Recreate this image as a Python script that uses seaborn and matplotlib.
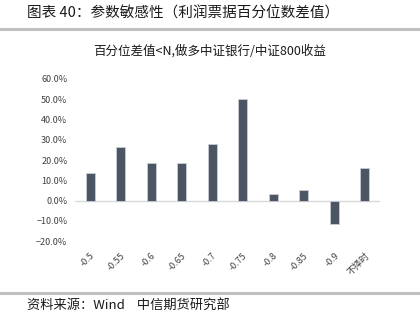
import matplotlib
matplotlib.use("Agg")
import matplotlib.pyplot as plt
import matplotlib.ticker as mticker
from matplotlib.lines import Line2D
import seaborn as sns
import pandas as pd

sns.set_style("white")
plt.rcParams["font.family"] = ["Noto Sans CJK SC", "DejaVu Sans"]

categories = ["-0.5", "-0.55", "-0.6", "-0.65", "-0.7", "-0.75", "-0.8", "-0.85", "-0.9", "不择时"]
returns = [0.137, 0.264, 0.186, 0.186, 0.279, 0.503, 0.033, 0.050, -0.117, 0.161]
y_ticks = [-0.2, -0.1, 0.0, 0.1, 0.2, 0.3, 0.4, 0.5, 0.6]

df = pd.DataFrame({"threshold": categories, "ret": returns})

fig = plt.figure(figsize=(4.2, 3.33), dpi=100)
ax = fig.add_axes([0.1786, 0.276, 0.9048 - 0.1786, 0.763 - 0.276])

sns.barplot(data=df, x="threshold", y="ret", ax=ax, color="#4B5563",
            width=0.31, saturation=1, edgecolor="#c9ced6", linewidth=0.6)

ax.set_ylim(-0.2, 0.6)
ax.set_yticks(y_ticks)
ax.yaxis.set_major_formatter(mticker.PercentFormatter(1.0, decimals=1))
ax.set_xlim(-0.5, len(categories) - 0.5)
ax.axhline(0, color="#d9d9d9", lw=1.0, zorder=0)
for s in ax.spines.values():
    s.set_visible(False)
ax.set_xlabel("")
ax.set_ylabel("")
ax.tick_params(axis="both", length=0, labelsize=6.5, colors="#404040")
ax.tick_params(axis="y", pad=5.5)
ax.tick_params(axis="x", pad=7)
plt.setp(ax.get_xticklabels(), rotation=45, ha="right", rotation_mode="anchor")

fig.text(0.5, 0.847, "百分位差值<N,做多中证银行/中证800收益", fontsize=9,
         color="#1a1a1a", va="center", ha="center")

fig.text(0.064, 0.958, "图表 40：参数敏感性（利润票据百分位数差值）", fontsize=10.5,
         color="#1a1a1a", va="center", ha="left")
fig.add_artist(Line2D([0, 1], [0.913, 0.913], color="#c0c0c0", lw=2.2))
fig.add_artist(Line2D([0, 1], [0.121, 0.121], color="#c0c0c0", lw=2.2))
fig.text(0.064, 0.084, "资料来源：Wind    中信期货研究部", fontsize=9.5,
         color="#1a1a1a", va="center", ha="left")

fig.savefig("out.png", dpi=100)
